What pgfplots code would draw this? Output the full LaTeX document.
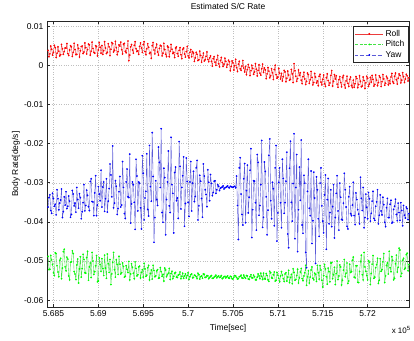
\documentclass[border=0pt]{standalone}
\usepackage{fontspec}
\setmainfont{Liberation Sans}
\usepackage{pgfplots}
\usepackage{pgfplotstable}
\pgfplotsset{compat=1.18}
\definecolor{rollline}{RGB}{235,60,60}
\definecolor{pitchline}{RGB}{70,225,70}
\definecolor{yawline}{RGB}{90,90,215}
\pgfplotstableread{
x roll pitch yaw
5.6844 0.0038 -0.0488 -0.0362
5.6845 0.0022 -0.0522 -0.0338
5.6846 0.0029 -0.0521 -0.0331
5.6847 0.0049 -0.0486 -0.0371
5.6848 0.0041 -0.0497 -0.0378
5.6849 0.0026 -0.0509 -0.0327
5.6850 0.0033 -0.0530 -0.0340
5.6851 0.0051 -0.0537 -0.0360
5.6852 0.0045 -0.0479 -0.0355
5.6853 0.0020 -0.0481 -0.0382
5.6854 0.0031 -0.0512 -0.0318
5.6855 0.0047 -0.0528 -0.0341
5.6856 0.0036 -0.0540 -0.0369
5.6857 0.0024 -0.0498 -0.0352
5.6858 0.0027 -0.0493 -0.0344
5.6859 0.0053 -0.0545 -0.0316
5.6860 0.0042 -0.0518 -0.0389
5.6861 0.0028 -0.0476 -0.0374
5.6862 0.0035 -0.0470 -0.0336
5.6863 0.0044 -0.0515 -0.0357
5.6864 0.0044 -0.0525 -0.0323
5.6865 0.0055 -0.0490 -0.0366
5.6866 0.0030 -0.0495 -0.0360
5.6867 0.0025 -0.0538 -0.0334
5.6868 0.0039 -0.0548 -0.0347
5.6869 0.0050 -0.0503 -0.0388
5.6870 0.0047 -0.0502 -0.0381
5.6871 0.0023 -0.0474 -0.0320
5.6872 0.0033 -0.0481 -0.0329
5.6873 0.0056 -0.0527 -0.0359
5.6874 0.0040 -0.0533 -0.0352
5.6875 0.0027 -0.0547 -0.0375
5.6876 0.0028 -0.0510 -0.0312
5.6877 0.0052 -0.0495 -0.0343
5.6878 0.0043 -0.0556 -0.0365
5.6879 0.0021 -0.0520 -0.0328
5.6880 0.0037 -0.0489 -0.0338
5.6881 0.0048 -0.0541 -0.0392
5.6882 0.0049 -0.0519 -0.0374
5.6883 0.0030 -0.0483 -0.0351
5.6884 0.0034 -0.0496 -0.0305
5.6885 0.0057 -0.0530 -0.0372
5.6886 0.0045 -0.0531 -0.0358
5.6887 0.0029 -0.0491 -0.0319
5.6888 0.0040 -0.0475 -0.0332
5.6889 0.0054 -0.0549 -0.0361
5.6890 0.0052 -0.0515 -0.0371
5.6891 0.0026 -0.0505 -0.0297
5.6892 0.0036 -0.0542 -0.0290
5.6893 0.0059 -0.0478 -0.0348
5.6894 0.0043 -0.0500 -0.0349
5.6895 0.0033 -0.0534 -0.0384
5.6896 0.0031 -0.0527 -0.0326
5.6897 0.0050 -0.0512 -0.0282
5.6898 0.0048 -0.0486 -0.0384
5.6899 0.0024 -0.0553 -0.0357
5.6900 0.0039 -0.0551 -0.0310
5.6901 0.0058 -0.0492 -0.0329
5.6902 0.0046 -0.0509 -0.0346
5.6903 0.0031 -0.0526 -0.0268
5.6904 0.0050 -0.0494 -0.0362
5.6905 0.0028 -0.0519 -0.0311
5.6906 0.0037 -0.0537 -0.0298
5.6907 0.0060 -0.0485 -0.0373
5.6908 0.0044 -0.0518 -0.0341
5.6909 0.0030 -0.0544 -0.0290
5.6910 0.0033 -0.0482 -0.0375
5.6911 0.0055 -0.0507 -0.0347
5.6912 0.0047 -0.0529 -0.0315
5.6913 0.0025 -0.0496 -0.0252
5.6914 0.0041 -0.0560 -0.0280
5.6915 0.0058 -0.0533 -0.0336
5.6916 0.0055 -0.0503 -0.0206
5.6917 0.0034 -0.0478 -0.0364
5.6918 0.0038 -0.0522 -0.0352
5.6919 0.0061 -0.0541 -0.0295
5.6920 0.0045 -0.0497 -0.0309
5.6921 0.0027 -0.0509 -0.0381
5.6922 0.0035 -0.0534 -0.0366
5.6923 0.0052 -0.0488 -0.0323
5.6924 0.0049 -0.0508 -0.0284
5.6925 0.0059 -0.0533 -0.0362
5.6926 0.0040 -0.0530 -0.0357
5.6927 0.0029 -0.0505 -0.0246
5.6928 0.0054 -0.0514 -0.0312
5.6929 0.0056 -0.0541 -0.0379
5.6930 0.0036 -0.0539 -0.0391
5.6931 0.0032 -0.0512 -0.0298
5.6932 0.0043 -0.0521 -0.0265
5.6933 0.0062 -0.0529 -0.0336
5.6934 0.0012 -0.0501 -0.0338
5.6935 0.0026 -0.0548 -0.0227
5.6936 0.0047 -0.0533 -0.0403
5.6937 0.0053 -0.0507 -0.0354
5.6938 0.0039 -0.0516 -0.0298
5.6939 0.0031 -0.0531 -0.0305
5.6940 0.0051 -0.0545 -0.0350
5.6941 0.0060 -0.0502 -0.0419
5.6942 0.0042 -0.0519 -0.0240
5.6943 0.0035 -0.0538 -0.0283
5.6944 0.0037 -0.0535 -0.0372
5.6945 0.0028 -0.0515 -0.0298
5.6946 0.0048 -0.0513 -0.0301
5.6947 0.0057 -0.0543 -0.0364
5.6948 0.0044 -0.0529 -0.0418
5.6949 0.0033 -0.0522 -0.0231
5.6950 0.0053 -0.0541 -0.0276
5.6951 0.0060 -0.0506 -0.0395
5.6952 0.0035 -0.0520 -0.0339
5.6953 0.0027 -0.0539 -0.0322
5.6954 0.0042 -0.0536 -0.0226
5.6955 0.0055 -0.0517 -0.0368
5.6956 0.0046 -0.0511 -0.0385
5.6957 0.0030 -0.0548 -0.0205
5.6958 0.0033 -0.0532 -0.0310
5.6959 0.0018 -0.0523 -0.0347
5.6960 0.0050 -0.0546 -0.0172
5.6961 0.0058 -0.0511 -0.0284
5.6962 0.0039 -0.0524 -0.0452
5.6963 0.0029 -0.0540 -0.0389
5.6964 0.0045 -0.0538 -0.0295
5.6965 0.0054 -0.0525 -0.0343
5.6966 0.0034 -0.0522 -0.0358
5.6967 0.0026 -0.0544 -0.0209
5.6968 0.0043 -0.0543 -0.0248
5.6969 0.0051 -0.0517 -0.0312
5.6970 0.0049 -0.0527 -0.0162
5.6971 0.0024 -0.0539 -0.0376
5.6972 0.0031 -0.0534 -0.0401
5.6973 0.0056 -0.0551 -0.0263
5.6974 0.0040 -0.0518 -0.0287
5.6975 0.0028 -0.0523 -0.0433
5.6976 0.0022 -0.0540 -0.0343
5.6977 0.0049 -0.0535 -0.0298
5.6978 0.0046 -0.0531 -0.0219
5.6979 0.0022 -0.0519 -0.0359
5.6980 0.0036 -0.0547 -0.0376
5.6981 0.0053 -0.0532 -0.0184
5.6982 0.0041 -0.0526 -0.0305
5.6983 0.0030 -0.0545 -0.0327
5.6984 0.0033 -0.0539 -0.0428
5.6985 0.0020 -0.0531 -0.0274
5.6986 0.0044 -0.0529 -0.0260
5.6987 0.0047 -0.0541 -0.0346
5.6988 0.0030 -0.0542 -0.0339
5.6989 0.0023 -0.0536 -0.0391
5.6990 0.0038 -0.0534 -0.0195
5.6991 0.0045 -0.0528 -0.0258
5.6992 0.0027 -0.0545 -0.0367
5.6993 0.0017 -0.0539 -0.0312
5.6994 0.0041 -0.0531 -0.0282
5.6995 0.0044 -0.0544 -0.0234
5.6996 0.0029 -0.0538 -0.0411
5.6997 0.0021 -0.0533 -0.0353
5.6998 0.0035 -0.0543 -0.0237
5.6999 0.0048 -0.0537 -0.0297
5.7000 0.0024 -0.0530 -0.0350
5.7001 0.0019 -0.0547 -0.0386
5.7002 0.0033 -0.0540 -0.0298
5.7003 0.0040 -0.0535 -0.0246
5.7004 0.0022 -0.0533 -0.0372
5.7005 0.0035 -0.0543 -0.0301
5.7006 0.0031 -0.0542 -0.0271
5.7007 0.0010 -0.0536 -0.0348
5.7008 0.0019 -0.0537 -0.0335
5.7009 0.0033 -0.0540 -0.0262
5.7010 0.0028 -0.0545 -0.0243
5.7011 0.0012 -0.0531 -0.0395
5.7012 0.0014 -0.0535 -0.0359
5.7013 0.0036 -0.0546 -0.0281
5.7014 0.0025 -0.0540 -0.0296
5.7015 0.0008 -0.0538 -0.0340
5.7016 0.0020 -0.0544 -0.0388
5.7017 0.0031 -0.0533 -0.0252
5.7018 0.0011 -0.0534 -0.0283
5.7019 0.0014 -0.0542 -0.0318
5.7020 0.0023 -0.0541 -0.0330
5.7021 0.0034 -0.0537 -0.0361
5.7022 0.0015 -0.0538 -0.0267
5.7023 0.0009 -0.0545 -0.0299
5.7024 0.0019 -0.0542 -0.0346
5.7025 0.0024 -0.0539 -0.0279
5.7026 0.0010 -0.0537 -0.0302
5.7027 -0.0002 -0.0544 -0.0333
5.7028 0.0017 -0.0544 -0.0325
5.7029 0.0022 -0.0541 -0.0296
5.7030 0.0008 -0.0539 -0.0295
5.7031 0.0000 -0.0536 -0.0327
5.7032 0.0014 -0.0543 -0.0318
5.7033 0.0025 -0.0540 -0.0305
5.7034 0.0004 -0.0538 -0.0309
5.7035 -0.0004 -0.0542 -0.0320
5.7036 0.0012 -0.0541 -0.0314
5.7037 0.0020 -0.0537 -0.0312
5.7038 0.0007 -0.0545 -0.0311
5.7039 -0.0003 -0.0543 -0.0308
5.7040 0.0003 -0.0540 -0.0316
5.7041 0.0018 -0.0539 -0.0313
5.7042 0.0010 -0.0543 -0.0312
5.7043 -0.0005 -0.0541 -0.0310
5.7044 0.0002 -0.0538 -0.0308
5.7045 0.0013 -0.0543 -0.0312
5.7046 0.0009 -0.0544 -0.0313
5.7047 -0.0014 -0.0539 -0.0309
5.7048 -0.0003 -0.0540 -0.0310
5.7049 0.0011 -0.0545 -0.0311
5.7050 0.0006 -0.0546 -0.0312
5.7051 -0.0012 -0.0541 -0.0310
5.7052 -0.0001 -0.0537 -0.0309
5.7053 0.0015 -0.0538 -0.0313
5.7054 -0.0006 -0.0542 -0.0283
5.7055 -0.0016 -0.0546 -0.0358
5.7056 0.0003 -0.0545 -0.0445
5.7057 0.0010 -0.0540 -0.0262
5.7058 -0.0009 -0.0539 -0.0236
5.7059 -0.0013 -0.0536 -0.0329
5.7060 -0.0002 -0.0543 -0.0381
5.7061 0.0012 -0.0544 -0.0408
5.7062 -0.0007 -0.0536 -0.0290
5.7063 -0.0017 -0.0541 -0.0251
5.7064 -0.0003 -0.0544 -0.0402
5.7065 -0.0024 -0.0537 -0.0320
5.7066 -0.0011 -0.0538 -0.0255
5.7067 0.0002 -0.0546 -0.0377
5.7068 -0.0006 -0.0547 -0.0337
5.7069 -0.0026 -0.0540 -0.0268
5.7070 -0.0014 -0.0535 -0.0213
5.7071 0.0000 -0.0543 -0.0440
5.7072 -0.0008 -0.0543 -0.0369
5.7073 -0.0023 -0.0536 -0.0295
5.7074 -0.0017 -0.0540 -0.0296
5.7075 0.0004 -0.0548 -0.0351
5.7076 -0.0010 -0.0548 -0.0421
5.7077 -0.0027 -0.0541 -0.0228
5.7078 -0.0013 -0.0533 -0.0248
5.7079 0.0001 -0.0538 -0.0383
5.7080 -0.0020 -0.0545 -0.0358
5.7081 -0.0025 -0.0531 -0.0305
5.7082 -0.0009 -0.0539 -0.0192
5.7083 0.0003 -0.0547 -0.0414
5.7084 -0.0018 -0.0531 -0.0388
5.7085 -0.0007 -0.0545 -0.0247
5.7086 -0.0012 -0.0546 -0.0271
5.7087 -0.0034 -0.0532 -0.0336
5.7088 -0.0022 -0.0537 -0.0433
5.7089 -0.0006 -0.0548 -0.0370
5.7090 -0.0015 -0.0552 -0.0230
5.7091 -0.0032 -0.0526 -0.0188
5.7092 -0.0027 -0.0530 -0.0346
5.7093 -0.0009 -0.0543 -0.0392
5.7094 -0.0019 -0.0544 -0.0299
5.7095 -0.0036 -0.0535 -0.0315
5.7096 -0.0011 -0.0528 -0.0410
5.7097 0.0000 -0.0551 -0.0262
5.7098 -0.0024 -0.0549 -0.0205
5.7099 -0.0033 -0.0529 -0.0449
5.7100 -0.0030 -0.0536 -0.0377
5.7101 -0.0008 -0.0544 -0.0299
5.7102 -0.0020 -0.0553 -0.0262
5.7103 -0.0035 -0.0538 -0.0351
5.7104 -0.0021 -0.0527 -0.0415
5.7105 -0.0040 -0.0536 -0.0240
5.7106 -0.0029 -0.0545 -0.0289
5.7107 -0.0013 -0.0552 -0.0378
5.7108 -0.0017 -0.0533 -0.0351
5.7109 -0.0042 -0.0530 -0.0296
5.7110 -0.0033 -0.0551 -0.0222
5.7111 -0.0015 -0.0541 -0.0431
5.7112 -0.0025 -0.0524 -0.0466
5.7113 -0.0038 -0.0555 -0.0263
5.7114 -0.0036 -0.0542 -0.0194
5.7115 -0.0011 -0.0534 -0.0350
5.7116 -0.0022 -0.0558 -0.0398
5.7117 -0.0044 -0.0520 -0.0302
5.7118 0.0004 -0.0529 -0.0175
5.7119 -0.0014 -0.0549 -0.0443
5.7120 -0.0028 -0.0547 -0.0312
5.7121 -0.0041 -0.0537 -0.0228
5.7122 -0.0034 -0.0521 -0.0476
5.7123 -0.0012 -0.0556 -0.0369
5.7124 -0.0026 -0.0543 -0.0260
5.7125 -0.0019 -0.0528 -0.0345
5.7126 -0.0038 -0.0519 -0.0191
5.7127 -0.0047 -0.0545 -0.0408
5.7128 -0.0029 -0.0550 -0.0429
5.7129 -0.0018 -0.0538 -0.0281
5.7130 -0.0035 -0.0530 -0.0301
5.7131 -0.0049 -0.0511 -0.0478
5.7132 -0.0041 -0.0562 -0.0517
5.7133 -0.0020 -0.0540 -0.0322
5.7134 -0.0024 -0.0525 -0.0240
5.7135 -0.0046 -0.0556 -0.0365
5.7136 -0.0037 -0.0541 -0.0384
5.7137 -0.0016 -0.0523 -0.0270
5.7138 -0.0031 -0.0515 -0.0455
5.7139 -0.0050 -0.0544 -0.0397
5.7140 -0.0044 -0.0548 -0.0273
5.7141 -0.0021 -0.0531 -0.0339
5.7142 -0.0030 -0.0534 -0.0506
5.7143 -0.0045 -0.0552 -0.0285
5.7144 -0.0040 -0.0511 -0.0318
5.7145 -0.0052 -0.0530 -0.0392
5.7146 -0.0028 -0.0546 -0.0437
5.7147 -0.0023 -0.0512 -0.0301
5.7148 -0.0043 -0.0523 -0.0262
5.7149 -0.0050 -0.0549 -0.0359
5.7150 -0.0036 -0.0566 -0.0398
5.7151 -0.0025 -0.0537 -0.0428
5.7152 -0.0047 -0.0509 -0.0331
5.7153 -0.0054 -0.0520 -0.0280
5.7154 -0.0032 -0.0540 -0.0470
5.7155 -0.0022 -0.0559 -0.0343
5.7156 -0.0039 -0.0518 -0.0289
5.7157 -0.0051 -0.0527 -0.0405
5.7158 -0.0045 -0.0553 -0.0376
5.7159 -0.0026 -0.0505 -0.0318
5.7160 -0.0014 -0.0504 -0.0412
5.7161 -0.0053 -0.0545 -0.0361
5.7162 -0.0041 -0.0535 -0.0305
5.7163 -0.0024 -0.0516 -0.0441
5.7164 -0.0035 -0.0560 -0.0389
5.7165 -0.0027 -0.0532 -0.0327
5.7166 -0.0048 -0.0500 -0.0282
5.7167 -0.0056 -0.0547 -0.0372
5.7168 -0.0037 -0.0538 -0.0421
5.7169 -0.0029 -0.0510 -0.0301
5.7170 -0.0044 -0.0515 -0.0337
5.7171 -0.0055 -0.0561 -0.0394
5.7172 -0.0031 -0.0549 -0.0395
5.7173 -0.0026 -0.0523 -0.0352
5.7174 -0.0050 -0.0496 -0.0276
5.7175 -0.0058 -0.0540 -0.0318
5.7176 -0.0040 -0.0531 -0.0362
5.7177 -0.0028 -0.0505 -0.0411
5.7178 -0.0046 -0.0557 -0.0418
5.7179 -0.0054 -0.0551 -0.0336
5.7180 -0.0036 -0.0508 -0.0310
5.7181 -0.0030 -0.0529 -0.0379
5.7182 -0.0052 -0.0527 -0.0384
5.7183 -0.0057 -0.0498 -0.0357
5.7184 -0.0038 -0.0490 -0.0299
5.7185 -0.0056 -0.0541 -0.0384
5.7186 -0.0047 -0.0543 -0.0407
5.7187 -0.0029 -0.0512 -0.0326
5.7188 -0.0034 -0.0512 -0.0343
5.7189 -0.0057 -0.0554 -0.0369
5.7190 -0.0049 -0.0555 -0.0380
5.7191 -0.0027 -0.0527 -0.0405
5.7192 -0.0041 -0.0501 -0.0286
5.7193 -0.0055 -0.0485 -0.0340
5.7194 -0.0053 -0.0535 -0.0371
5.7195 -0.0030 -0.0548 -0.0312
5.7196 -0.0039 -0.0478 -0.0415
5.7197 -0.0059 -0.0515 -0.0389
5.7198 -0.0045 -0.0526 -0.0329
5.7199 -0.0028 -0.0537 -0.0363
5.7200 -0.0033 -0.0548 -0.0392
5.7201 -0.0054 -0.0499 -0.0325
5.7202 -0.0048 -0.0503 -0.0341
5.7203 -0.0031 -0.0560 -0.0398
5.7204 -0.0043 -0.0532 -0.0378
5.7205 -0.0026 -0.0508 -0.0347
5.7206 -0.0036 -0.0486 -0.0322
5.7207 -0.0053 -0.0544 -0.0391
5.7208 -0.0049 -0.0541 -0.0396
5.7209 -0.0025 -0.0517 -0.0360
5.7210 -0.0038 -0.0509 -0.0349
5.7211 -0.0052 -0.0493 -0.0318
5.7212 -0.0044 -0.0557 -0.0405
5.7213 -0.0027 -0.0549 -0.0383
5.7214 -0.0031 -0.0494 -0.0331
5.7215 -0.0054 -0.0526 -0.0372
5.7216 -0.0042 -0.0522 -0.0382
5.7217 -0.0024 -0.0502 -0.0337
5.7218 -0.0035 -0.0481 -0.0356
5.7219 -0.0051 -0.0555 -0.0401
5.7220 -0.0046 -0.0538 -0.0412
5.7221 -0.0028 -0.0511 -0.0364
5.7222 -0.0033 -0.0505 -0.0340
5.7223 -0.0050 -0.0533 -0.0389
5.7224 -0.0039 -0.0475 -0.0389
5.7225 -0.0047 -0.0517 -0.0355
5.7226 -0.0030 -0.0527 -0.0345
5.7227 -0.0021 -0.0489 -0.0403
5.7228 -0.0042 -0.0498 -0.0401
5.7229 -0.0046 -0.0548 -0.0368
5.7230 -0.0028 -0.0544 -0.0360
5.7231 -0.0020 -0.0507 -0.0342
5.7232 -0.0037 -0.0485 -0.0381
5.7233 -0.0048 -0.0528 -0.0397
5.7234 -0.0033 -0.0516 -0.0352
5.7235 -0.0022 -0.0467 -0.0376
5.7236 -0.0026 -0.0472 -0.0396
5.7237 -0.0045 -0.0539 -0.0351
5.7238 -0.0038 -0.0531 -0.0371
5.7239 -0.0019 -0.0498 -0.0410
5.7240 -0.0029 -0.0493 -0.0358
5.7241 -0.0044 -0.0521 -0.0383
5.7242 -0.0035 -0.0518 -0.0390
5.7243 -0.0023 -0.0484 -0.0362
5.7244 -0.0027 -0.0480 -0.0366
5.7245 -0.0040 -0.0525 -0.0394
5.7246 -0.0032 -0.0509 -0.0379
}\rates

\begin{document}
\begin{tikzpicture}
\path (-47pt,-34pt) rectangle (367pt,302pt);
\begin{axis}[
  at={(0,0)}, anchor=south west,
  scale only axis, width=363pt, height=286pt,
  xmin=5.68427, xmax=5.72463, ymin=-0.0617, ymax=0.0112,
  xtick={5.685,5.69,5.695,5.7,5.705,5.71,5.715,5.72},
  xticklabels={5.685,5.69,5.695,5.7,5.705,5.71,5.715,5.72},
  ytick={-0.06,-0.05,-0.04,-0.03,-0.02,-0.01,0,0.01},
  yticklabels={-0.06,-0.05,-0.04,-0.03,-0.02,-0.01,0,0.01},
  scaled ticks=false,
  /pgf/number format/assume math mode=true,
  tick align=inside, tick pos=both, major tick length=3pt,
  grid=major,
  major grid style={dotted, gray!50, line width=0.35pt},
  axis line style={black!85, line width=0.5pt},
  every tick/.style={black!85, line width=0.5pt},
  tick label style={font=\fontsize{8.5}{10}\selectfont},
  title={Estimated S/C Rate},
  title style={font=\fontsize{8.5}{10}\selectfont, at={(axis description cs:0.5,1.0315)}, anchor=center},
  xlabel={Time[sec]},
  xlabel style={font=\fontsize{8.5}{10}\selectfont, at={(axis description cs:0.5,-0.0734)}, anchor=center},
  ylabel={Body Rate[deg/s]},
  ylabel style={font=\fontsize{8.5}{10}\selectfont, at={(axis description cs:-0.0854,0.5)}, anchor=center},
  legend style={at={(0.997,0.983)}, anchor=north east, draw=black!85, line width=0.5pt,
    font=\fontsize{8.5}{10}\selectfont, inner sep=1.5pt, row sep=-1pt},
  legend cell align=left,
  legend image code/.code={\draw[mark repeat=2,mark phase=2,#1] plot coordinates {(0pt,0pt) (14pt,0pt) (28pt,0pt)};},
]
\addlegendimage{draw=rollline, line width=0.4pt, mark=*, mark size=0.65pt, mark options={solid, fill=red, draw=red}}
\addlegendentry{Roll}
\addlegendimage{draw=pitchline, line width=0.4pt, dash pattern=on 3pt off 1.5pt, mark=*, mark size=0.65pt, mark options={solid, fill=green, draw=green}}
\addlegendentry{Pitch}
\addlegendimage{draw=yawline, line width=0.4pt, dash pattern=on 3pt off 1.2pt on 0.6pt off 1.2pt, mark=*, mark size=0.65pt, mark options={solid, fill=blue, draw=blue}}
\addlegendentry{Yaw}
\addplot[forget plot, draw=rollline, line width=0.4pt, mark=*, mark size=0.65pt, mark options={solid, fill=red, draw=red}] table[x=x, y=roll]{\rates};
\addplot[forget plot, draw=pitchline, line width=0.4pt, mark=*, mark size=0.65pt, mark options={solid, fill=green, draw=green}] table[x=x, y=pitch]{\rates};
\addplot[forget plot, draw=yawline, line width=0.4pt, mark=*, mark size=0.65pt, mark options={solid, fill=blue, draw=blue}] table[x=x, y=yaw]{\rates};
\end{axis}
\node[font=\fontsize{8}{9}\selectfont, anchor=center] at (355pt,-23pt) {x 10\textsuperscript{5}};
\end{tikzpicture}
\end{document}
